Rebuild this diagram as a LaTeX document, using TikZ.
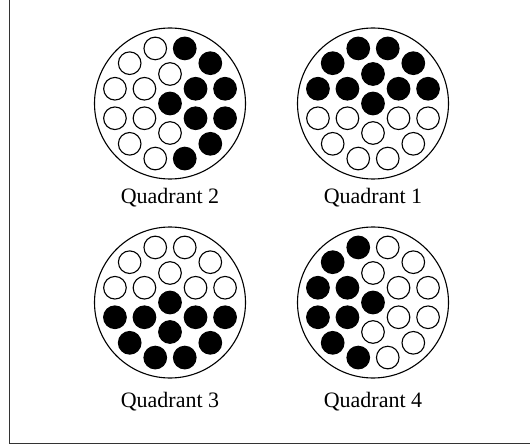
\documentclass[tikz,border=0pt]{standalone}
\usepackage{fontspec}
\setmainfont{Liberation Serif}
\tikzset{
  bigc/.style={circle,draw=black,line width=1.1pt,minimum size=151pt,inner sep=0pt},
  bdot/.style={circle,draw=black,fill=black,line width=1.1pt,minimum size=22.6pt,inner sep=0pt},
  wdot/.style={circle,draw=black,fill=white,line width=1.1pt,minimum size=22.6pt,inner sep=0pt},
  qlabel/.style={anchor=base,inner sep=0pt,font=\fontsize{22}{26}\selectfont},
  framel/.style={draw=black!80,line width=1.3pt}
}
% #1 name, #2 x, #3 y, #4 outer black, #5 outer white, #6 inner black, #7 inner white
\newcommand\drawquadrant[7]{%
  \node[bigc] (#1) at (#2,#3) {};
  \node[bdot] (#1c) at (#1.center) {};
  \foreach \a in {#4} \node[bdot] (#1o\a) at ([shift={(\a:57)}]#1.center) {};
  \foreach \a in {#5} \node[wdot] (#1o\a) at ([shift={(\a:57)}]#1.center) {};
  \foreach \a in {#6} \node[bdot] (#1i\a) at ([shift={(\a:29.5)}]#1.center) {};
  \foreach \a in {#7} \node[wdot] (#1i\a) at ([shift={(\a:29.5)}]#1.center) {};
}
\begin{document}
\begin{tikzpicture}[x=1pt,y=1pt]
\useasboundingbox (0,0) rectangle (530,445);
\coordinate (ftl) at (9.5,445);
\coordinate (fbl) at (9.5,1.7);
\coordinate (fbr) at (530,1.7);
\draw[framel] (ftl) -- (fbl) -- (fbr);
% Quadrant 2 (top left)
\drawquadrant{qb}{170}{341.5}{285,315,345,15,45,75}{105,135,165,195,225,255}{30,330}{90,150,210,270}
% Quadrant 1 (top right)
\drawquadrant{qa}{373}{341.5}{15,45,75,105,135,165}{195,225,255,285,315,345}{30,90,150}{210,270,330}
% Quadrant 3 (bottom left)
\drawquadrant{qc}{170}{142.5}{195,225,255,285,315,345}{15,45,75,105,135,165}{210,270,330}{30,90,150}
% Quadrant 4 (bottom right)
\drawquadrant{qd}{373}{142.5}{105,135,165,195,225,255}{285,315,345,15,45,75}{150,210}{30,90,270,330}
\node[qlabel] (lb) at (170,241) {Quadrant 2};
\node[qlabel] (la) at (373,241) {Quadrant 1};
\node[qlabel] (lc) at (170,38) {Quadrant 3};
\node[qlabel] (ld) at (373,38) {Quadrant 4};
\end{tikzpicture}
\end{document}
